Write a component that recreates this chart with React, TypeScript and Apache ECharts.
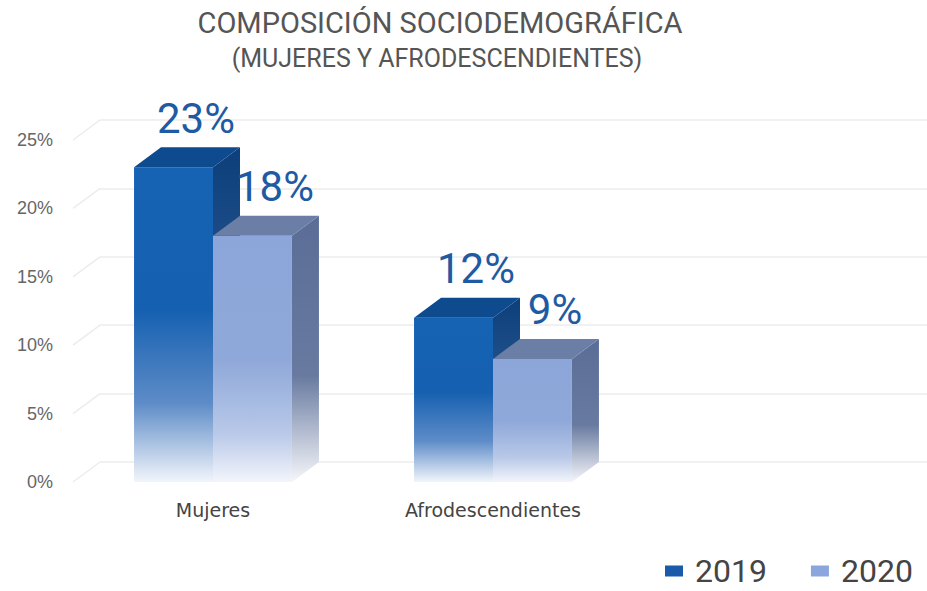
import React, { useEffect, useRef } from "react";
import * as echarts from "echarts";

const categories = ["Mujeres", "Afrodescendientes", ""];
const series2019 = [23, 12, null];
const series2020 = [18, 9, null];
const seriesNames = ["2019", "2020"];
const yTicks = [0, 5, 10, 15, 20, 25];
const titleText = "COMPOSICIÓN SOCIODEMOGRÁFICA";
const subtitleText = "(MUJERES Y AFRODESCENDIENTES)";

const DX = 27;
const DY = 20;
const BAR_RATIO = 0.282;

const palettes = [
  {
    front: [
      [0, "#1662b3"],
      [0.45, "#1560b0"],
      [0.75, "#5e8cc8"],
      [1, "#f2f5fb"],
    ],
    top: "#0e4a8e",
    side: [
      [0, "#0c3f7b"],
      [0.6, "#2d5b94"],
      [1, "#f2f5fb"],
    ],
    legend: "#1a5aa8",
  },
  {
    front: [
      [0, "#8ca6d9"],
      [0.5, "#8ea8d9"],
      [0.8, "#b8c8e8"],
      [1, "#f3f5fb"],
    ],
    top: "#6b7ea5",
    side: [
      [0, "#5a6d96"],
      [0.6, "#687aa0"],
      [1, "#f5f6fa"],
    ],
    legend: "#8aa6dc",
  },
];

function grad(stops: any[]) {
  return new echarts.graphic.LinearGradient(
    0,
    0,
    0,
    1,
    stops.map((s) => ({ offset: s[0], color: s[1] }))
  );
}

function makeBarSeries(idx: number, values: (number | null)[]) {
  const pal = palettes[idx];
  return {
    type: "custom",
    name: seriesNames[idx],
    xAxisIndex: 0,
    yAxisIndex: 0,
    itemStyle: { color: pal.legend },
    z: 10 + idx,
    data: values.map((v, i) => [i, v]),
    renderItem: (params: any, api: any) => {
      const v = api.value(1);
      if (v === null || v === undefined || isNaN(v)) return null;
      const cat = api.value(0);
      const top = api.coord([cat, v]);
      const base = api.coord([cat, 0]);
      const bandW = api.size([1, 0])[0];
      const bw = bandW * BAR_RATIO;
      const x0 = idx === 0 ? top[0] - bw : top[0];
      const ty = top[1];
      const by = base[1];
      return {
        type: "group",
        children: [
          {
            type: "polygon",
            shape: {
              points: [
                [x0 + bw, ty],
                [x0 + bw + DX, ty - DY],
                [x0 + bw + DX, by - DY],
                [x0 + bw, by],
              ],
            },
            style: { fill: grad(pal.side) },
          },
          {
            type: "rect",
            shape: { x: x0, y: ty, width: bw, height: by - ty },
            style: { fill: grad(pal.front) },
          },
          {
            type: "polygon",
            shape: {
              points: [
                [x0, ty],
                [x0 + DX, ty - DY],
                [x0 + bw + DX, ty - DY],
                [x0 + bw, ty],
              ],
            },
            style: { fill: pal.top },
          },
          {
            type: "text",
            style: {
              x: x0 + bw / 2 + DX / 2 + 9,
              y: ty - DY - 8,
              text: v + "%",
              fill: "#1f5ba3",
              font: '42px Roboto, "Noto Sans", sans-serif',
              align: "center",
              verticalAlign: "bottom",
            },
          },
        ],
      };
    },
  };
}

export default function App() {
  const ref = useRef<HTMLDivElement>(null);
  useEffect(() => {
    if (!ref.current) return;
    const chart = echarts.init(ref.current, undefined, { renderer: "svg" });
    const option: any = {
      animation: false,
      backgroundColor: "#ffffff",
      graphic: [
        {
          type: "text",
          x: 440,
          y: 23,
          style: {
            text: titleText,
            fill: "#555555",
            font: '29px Roboto, "Noto Sans", sans-serif',
            align: "center",
            verticalAlign: "middle",
          },
        },
        {
          type: "text",
          x: 437,
          y: 58,
          style: {
            text: subtitleText,
            fill: "#555555",
            font: '25px Roboto, "Noto Sans", sans-serif',
            align: "center",
            verticalAlign: "middle",
          },
        },
      ],
      legend: {
        left: 665,
        top: 555,
        padding: 0,
        icon: "rect",
        itemWidth: 18,
        itemHeight: 11,
        itemGap: 44,
        data: seriesNames,
        textStyle: {
          fontSize: 32,
          lineHeight: 30,
          color: "#444444",
          fontFamily: 'Roboto, "Noto Sans", sans-serif',
          padding: [0, 0, 0, 7],
        },
      },
      grid: [
        { left: 73, right: 14, top: 140, bottom: 109 },
        { left: 73 + DX, right: 0, top: 140 - DY, bottom: 109 + DY },
      ],
      xAxis: [
        {
          type: "category",
          gridIndex: 0,
          data: categories,
          axisLine: { show: false },
          axisTick: { show: false },
          axisLabel: {
            margin: 18,
            fontSize: 19,
            color: "#444444",
            fontFamily: '"DejaVu Sans", "Noto Sans", sans-serif',
          },
        },
        {
          type: "category",
          gridIndex: 1,
          data: categories,
          show: false,
        },
      ],
      yAxis: [
        {
          type: "value",
          gridIndex: 0,
          min: 0,
          max: 25,
          interval: 5,
          axisLine: { show: false },
          axisTick: { show: false },
          splitLine: { show: false },
          axisLabel: {
            formatter: "{value}%",
            margin: 20,
            fontSize: 18,
            color: "#666666",
            fontFamily: '"Liberation Sans", "Noto Sans", sans-serif',
          },
        },
        {
          type: "value",
          gridIndex: 1,
          min: 0,
          max: 25,
          interval: 5,
          axisLine: { show: false },
          axisTick: { show: false },
          axisLabel: { show: false },
          splitLine: { show: true, lineStyle: { color: "#ececec", width: 1.5 } },
        },
      ],
      series: [
        {
          type: "custom",
          xAxisIndex: 0,
          yAxisIndex: 0,
          silent: true,
          z: 1,
          data: yTicks.map((t) => [0, t]),
          renderItem: (params: any, api: any) => {
            const p = api.coord([0, api.value(1)]);
            const bandW = api.size([1, 0])[0];
            const x = p[0] - bandW / 2;
            return {
              type: "line",
              shape: { x1: x, y1: p[1], x2: x + DX, y2: p[1] - DY },
              style: { stroke: "#ececec", lineWidth: 1.5 },
            };
          },
        },
        makeBarSeries(0, series2019),
        makeBarSeries(1, series2020),
      ],
    };
    chart.setOption(option);
    return () => chart.dispose();
  }, []);
  return (
    <div
      ref={ref}
      style={{ position: "fixed", left: 0, top: 0, width: 927, height: 591 }}
    />
  );
}
